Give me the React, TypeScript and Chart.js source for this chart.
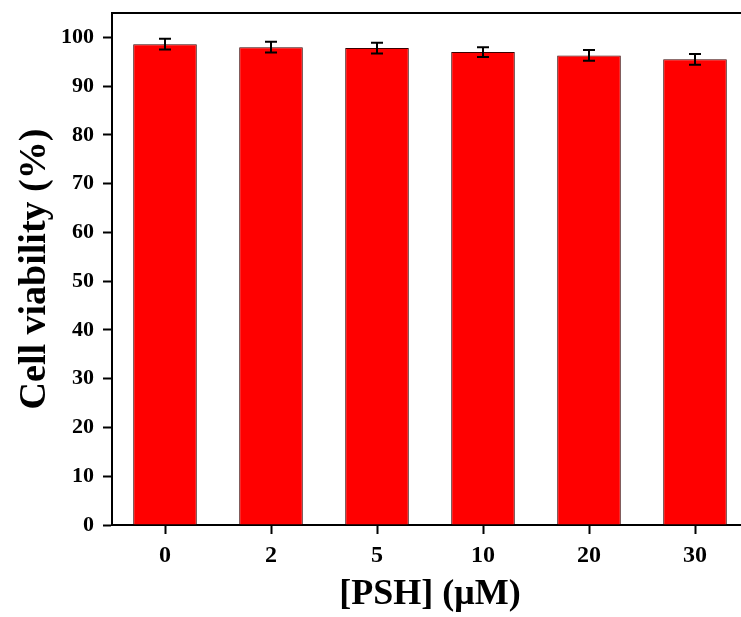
import React, { useEffect, useRef } from "react";
import { Chart, registerables } from "chart.js";

Chart.register(...registerables);

const categories = ["0", "2", "5", "10", "20", "30"];
const viability = [98.6, 98.0, 97.8, 97.0, 96.3, 95.5];
const errors = [1.1, 1.1, 1.1, 1.0, 1.1, 1.1];
const yTicks = [0, 10, 20, 30, 40, 50, 60, 70, 80, 90, 100];

const FONT = "'Liberation Serif', 'Times New Roman', serif";

const errorBarPlugin = {
  id: "errorBars",
  afterDatasetsDraw(chart: any) {
    const ctx = chart.ctx;
    const meta = chart.getDatasetMeta(0);
    const yScale = chart.scales.y;
    ctx.save();
    ctx.strokeStyle = "#000";
    ctx.lineWidth = 2;
    meta.data.forEach((bar: any, i: number) => {
      const x = bar.x;
      const hi = yScale.getPixelForValue(viability[i] + errors[i]);
      const lo = yScale.getPixelForValue(viability[i] - errors[i]);
      const w = 6;
      ctx.beginPath();
      ctx.moveTo(x, hi);
      ctx.lineTo(x, lo);
      ctx.moveTo(x - w, hi);
      ctx.lineTo(x + w, hi);
      ctx.moveTo(x - w, lo);
      ctx.lineTo(x + w, lo);
      ctx.stroke();
    });
    ctx.restore();
  },
};

const framePlugin = {
  id: "frame",
  afterDraw(chart: any) {
    const { ctx, chartArea } = chart;
    ctx.save();
    ctx.strokeStyle = "#000";
    ctx.lineWidth = 2;
    ctx.beginPath();
    ctx.moveTo(chartArea.left - 1, chartArea.top);
    ctx.lineTo(chartArea.right, chartArea.top);
    ctx.lineTo(chartArea.right, chartArea.bottom);
    ctx.stroke();
    ctx.restore();
  },
};

export default function App() {
  const ref = useRef<HTMLCanvasElement>(null);
  useEffect(() => {
    if (!ref.current) return;
    const chart = new Chart(ref.current, {
      type: "bar",
      data: {
        labels: categories,
        datasets: [
          {
            data: viability,
            backgroundColor: "#ff0000",
            borderColor: "#3a0000",
            borderWidth: 1,
            barPercentage: 0.6,
            categoryPercentage: 1,
          },
        ],
      },
      options: {
        responsive: false,
        animation: false,
        layout: { padding: { left: 0, right: 12, top: 13, bottom: 0 } },
        plugins: { legend: { display: false }, tooltip: { enabled: false } },
        scales: {
          x: {
            grid: {
              display: true,
              offset: false,
              drawOnChartArea: false,
              drawTicks: true,
              tickLength: 9,
              tickWidth: 2,
              tickColor: "#000",
            },
            border: { display: true, color: "#000", width: 2 },
            ticks: {
              color: "#000",
              padding: 7,
              font: { family: FONT, size: 24, weight: "bold" },
            },
            title: {
              display: true,
              text: "[PSH] (μM)",
              color: "#000",
              font: { family: FONT, size: 36, weight: "bold", lineHeight: 1 },
              padding: { top: 0, bottom: 4 },
            },
            afterFit(scale: any) {
              scale.height = 92;
              scale.paddingLeft = 0;
              scale.paddingRight = 0;
            },
          },
          y: {
            min: 0,
            max: 105,
            afterBuildTicks(scale: any) {
              scale.ticks = yTicks.map((v) => ({ value: v }));
            },
            grid: {
              display: true,
              drawOnChartArea: false,
              drawTicks: true,
              tickLength: 9,
              tickWidth: 2,
              tickColor: "#000",
            },
            border: { display: true, color: "#000", width: 2 },
            ticks: {
              color: "#000",
              padding: 9,
              font: { family: FONT, size: 22, weight: "bold" },
            },
            title: {
              display: true,
              text: "Cell viability (%)",
              color: "#000",
              font: { family: FONT, size: 38, weight: "bold", lineHeight: 1 },
              padding: { top: 16, bottom: 0 },
            },
            afterFit(scale: any) {
              scale.width = 112;
              scale.paddingTop = 0;
              scale.paddingBottom = 0;
            },
          },
        },
      },
      plugins: [errorBarPlugin, framePlugin],
    });
    return () => chart.destroy();
  }, []);
  return (
    <div
      style={{
        position: "fixed",
        left: 0,
        top: 0,
        width: 741,
        height: 617,
        overflow: "hidden",
        background: "#fff",
      }}
    >
      <canvas ref={ref} width={760} height={617} style={{ display: "block", width: 760, height: 617 }} />
    </div>
  );
}
